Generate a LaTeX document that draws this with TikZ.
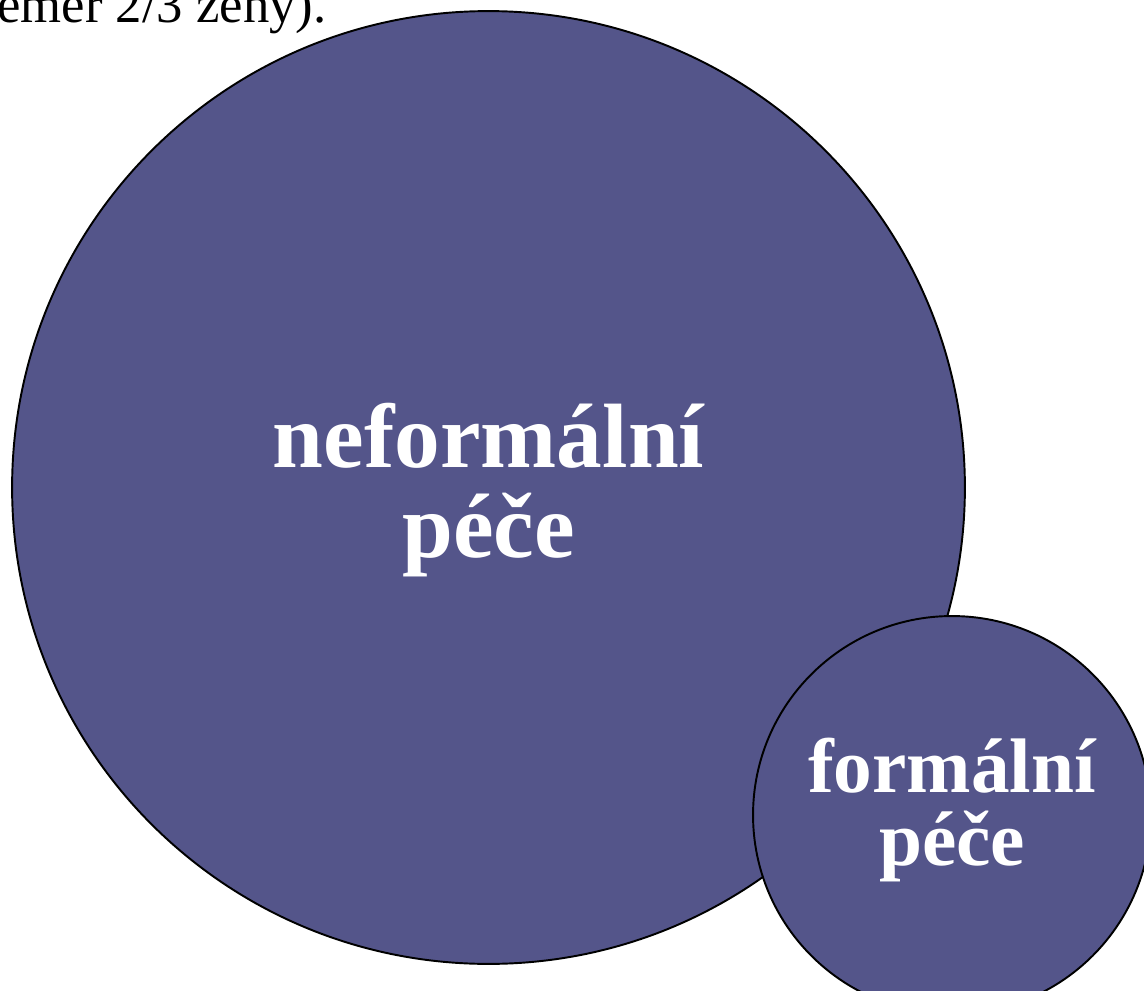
\documentclass[tikz,border=0pt]{standalone}
\usepackage{fontspec}
\setmainfont{Liberation Serif}
\usetikzlibrary{positioning}
\definecolor{carefill}{HTML}{54558A}
\tikzset{%
   bubble/.style={circle, draw=black, line width=1.1pt, fill=carefill, text=white, align=center, inner sep=0mm, font=\bfseries},
   bigbubble/.style={bubble, minimum size=19.06cm, font=\fontsize{52}{51}\selectfont\bfseries},
   smallbubble/.style={bubble, minimum size=7.96cm, font=\fontsize{44}{42}\selectfont\bfseries},
}

\begin{document}
\begin{tikzpicture}[x=0.02cm, y=-0.02cm]
   \useasboundingbox (0,0) rectangle (1144,991);
   \clip (0,0) rectangle (1144,991);
   \node[anchor=base east, font=\fontsize{30}{32}\selectfont, inner sep=0pt] (note) at (327,22) {téměř 2/3 ženy).};
   \node[bigbubble] (neform) at (488.5,487.5) {};
   \node[bigbubble, fill=none, draw=none] (neformtext) at (488.5,490) {neformální\\péče};
   \node[smallbubble] (form) at (952,815) {};
   \node[smallbubble, fill=none, draw=none] (formtext) at (952,810) {formální\\péče};
\end{tikzpicture}
\end{document}
